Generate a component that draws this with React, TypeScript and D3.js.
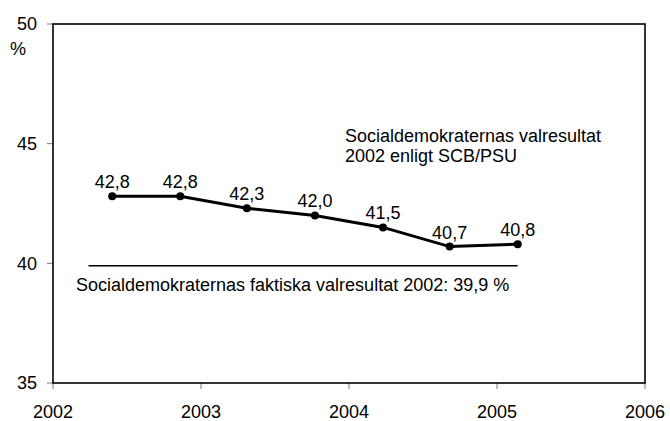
import React from "react";
import * as d3 from "d3";

const years = [2002.4, 2002.86, 2003.31, 2003.77, 2004.23, 2004.68, 2005.14];
const values = [42.8, 42.8, 42.3, 42.0, 41.5, 40.7, 40.8];
const labels = ["42,8", "42,8", "42,3", "42,0", "41,5", "40,7", "40,8"];
const xTicks = [2002, 2003, 2004, 2005, 2006];
const yTicks = [35, 40, 45, 50];
const actualResult = 39.9;
const actualStart = 2002.24;
const actualLabel = "Socialdemokraternas faktiska valresultat 2002: 39,9 %";
const surveyLabel = ["Socialdemokraternas valresultat", "2002 enligt SCB/PSU"];

const W = 670;
const H = 421;
const left = 53;
const right = 645;
const top = 24;
const bottom = 383;
const fs = 18;
const font = "Arial, 'Liberation Sans', sans-serif";

export default function App() {
  const x = d3.scaleLinear().domain([2002, 2006]).range([left, right]);
  const y = d3.scaleLinear().domain([35, 50]).range([bottom, top]);
  const pts = years.map((yr, i) => [x(yr), y(values[i])] as [number, number]);
  const line = d3.line()(pts) || "";
  return (
    <svg
      width={W}
      height={H}
      style={{ position: "absolute", left: 0, top: 0, background: "#fff" }}
      fontFamily={font}
    >
      <rect x={0} y={0} width={W} height={H} fill="#fff" />
      {yTicks.map((t) => (
        <g key={t}>
          <line x1={left - 6} x2={left} y1={y(t)} y2={y(t)} stroke="#777" strokeWidth={1} />
          <text x={37} y={y(t)} dy="0.35em" textAnchor="end" fontSize={fs} fill="#000">
            {t}
          </text>
        </g>
      ))}
      <text x={18} y={49} dy="0.35em" textAnchor="middle" fontSize={fs} fill="#000">
        %
      </text>
      {xTicks.map((t) => (
        <g key={t}>
          <line x1={x(t)} x2={x(t)} y1={bottom} y2={bottom + 6} stroke="#777" strokeWidth={1} />
          <text x={x(t)} y={418} textAnchor="middle" fontSize={fs} fill="#000">
            {t}
          </text>
        </g>
      ))}
      <rect
        x={left}
        y={top}
        width={right - left}
        height={bottom - top}
        fill="none"
        stroke="#000"
        strokeWidth={1.6}
      />
      <line
        x1={x(actualStart)}
        x2={x(years[years.length - 1])}
        y1={y(actualResult)}
        y2={y(actualResult)}
        stroke="#000"
        strokeWidth={1.5}
      />
      <text x={76} y={291} fontSize={fs} fill="#000">
        {actualLabel}
      </text>
      <path d={line} fill="none" stroke="#000" strokeWidth={3} />
      {pts.map((p, i) => (
        <g key={i}>
          <circle cx={p[0]} cy={p[1]} r={4} fill="#000" />
          <text x={p[0]} y={p[1] - 8} textAnchor="middle" fontSize={fs} fill="#000">
            {labels[i]}
          </text>
        </g>
      ))}
      {surveyLabel.map((s, i) => (
        <text key={i} x={345} y={141.5 + i * 20.5} fontSize={fs} fill="#000">
          {s}
        </text>
      ))}
    </svg>
  );
}
